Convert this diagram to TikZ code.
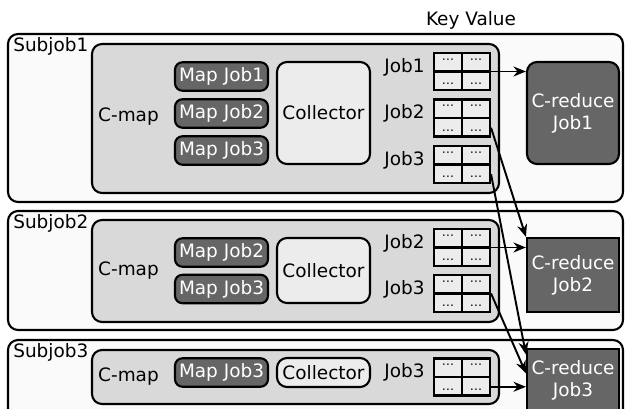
\documentclass[tikz,border=0pt]{standalone}
\usepackage{fontspec}
\setmainfont{DejaVu Sans}
\usetikzlibrary{arrows.meta, calc, positioning}

\definecolor{boxbg}{HTML}{FAFAFA}
\definecolor{mapbg}{HTML}{D9D9D9}
\definecolor{lightbg}{HTML}{ECECEC}
\definecolor{darkbg}{HTML}{666666}

\tikzset{
    subjob/.style={draw, rounded corners=0.2cm, fill=boxbg, line width=1.2pt, inner sep=0pt},
    cmap/.style={draw, rounded corners=0.2cm, fill=mapbg, line width=1.2pt, inner sep=0pt},
    mapjob/.style={draw, rounded corners=0.15cm, fill=darkbg, text=white, minimum width=1.86cm, minimum height=0.57cm, inner sep=0pt, line width=1.2pt},
    collector/.style={draw, rounded corners=0.2cm, fill=lightbg, minimum width=1.86cm, inner sep=0pt, line width=1.2pt},
    reduce/.style={draw, fill=darkbg, text=white, align=center, minimum width=1.84cm, inner sep=0pt, line width=1.2pt},
    kvcell/.style={draw, fill=lightbg, minimum width=1.12cm, minimum height=0.74cm, inner sep=0pt, line width=1.2pt},
    kvdots/.style={inner sep=0pt, font=\fontsize{7}{7}\selectfont},
    joblabel/.style={inner sep=0pt, left=0.16cm of #1, yshift=0.09cm},
    flow/.style={-{Stealth[length=0.25cm, width=0.2cm]}, line width=1.1pt},
}

% key/value table: name, centre
\newcommand{\kvtable}[2]{%
    \node[kvcell] (#1) at (#2) {};
    \draw[line width=1.2pt] (#1.north) -- (#1.south) (#1.west) -- (#1.east);
    \node[kvdots] (#1-a) at ($(#1.center)+(-0.28,0.21)$) {⋯};
    \node[kvdots] (#1-b) at ($(#1.center)+(0.28,0.21)$) {⋯};
    \node[kvdots] (#1-c) at ($(#1.center)+(-0.28,-0.25)$) {…};
    \node[kvdots] (#1-d) at ($(#1.center)+(0.28,-0.25)$) {…};
    \coordinate (#1-out) at ($(#1.east)!0.5!(#1.south east)$);
}

\begin{document}
\begin{tikzpicture}[font=\fontsize{10.5}{12.5}\selectfont]
    \useasboundingbox[fill=white] (0,0) rectangle (12.5,8.18);

    % Outer boxes and the C-map areas
    \node[subjob, minimum width=12.30cm, minimum height=3.36cm] (sub1) at (6.31, 5.82) {};
    \node[subjob, minimum width=12.30cm, minimum height=2.38cm] (sub2) at (6.31, 2.77) {};
    \node[subjob, minimum width=12.30cm, minimum height=1.68cm] (sub3) at (6.31, 0.54) {};
    \node[cmap, minimum width=8.14cm, minimum height=2.98cm] (cmap1) at (5.91, 5.81) {};
    \node[cmap, minimum width=8.14cm, minimum height=2.04cm] (cmap2) at (5.91, 2.76) {};
    \node[cmap, minimum width=8.14cm, minimum height=1.08cm] (cmap3) at (5.91, 0.64) {};

    % Labels
    \node[anchor=west, inner sep=0pt] (s1) at ($(sub1.north west)+(0.12,-0.26)$) {Subjob1};
    \node[anchor=west, inner sep=0pt] (s2) at ($(sub2.north west)+(0.12,-0.27)$) {Subjob2};
    \node[anchor=west, inner sep=0pt] (s3) at ($(sub3.north west)+(0.12,-0.26)$) {Subjob3};
    \node (kv) at (9.42, 7.78) {Key Value};
    \node (cm1) at (2.57, 5.84) {C-map};
    \node (cm2) at (2.57, 2.76) {C-map};
    \node (cm3) at (2.57, 0.64) {C-map};

    % Map jobs
    \node[mapjob] (m11) at (4.43, 6.65) {Map Job1};
    \node[mapjob] (m12) at (4.43, 5.91) {Map Job2};
    \node[mapjob] (m13) at (4.43, 5.17) {Map Job3};
    \node[mapjob] (m22) at (4.43, 3.13) {Map Job2};
    \node[mapjob] (m23) at (4.43, 2.40) {Map Job3};
    \node[mapjob] (m33) at (4.43, 0.73) {Map Job3};

    % Collectors
    \node[collector, minimum height=2.04cm] (col1) at (6.47, 5.92) {Collector};
    \node[collector, minimum height=1.30cm] (col2) at (6.47, 2.77) {Collector};
    \node[collector, minimum height=0.58cm] (col3) at (6.47, 0.73) {Collector};

    % Key/value tables
    \kvtable{t11}{9.24, 6.75}
    \kvtable{t12}{9.24, 5.82}
    \kvtable{t13}{9.24, 4.89}
    \kvtable{t21}{9.24, 3.23}
    \kvtable{t22}{9.24, 2.31}
    \kvtable{t31}{9.24, 0.64}
    \node[joblabel=t11] (j11) {Job1};
    \node[joblabel=t12] (j12) {Job2};
    \node[joblabel=t13] (j13) {Job3};
    \node[joblabel=t21] (j21) {Job2};
    \node[joblabel=t22] (j22) {Job3};
    \node[joblabel=t31] (j31) {Job3};

    % Reducers
    \node[reduce, rounded corners=0.2cm, minimum height=2.04cm] (red1) at (11.46, 5.92) {C-reduce\\Job1};
    \node[reduce, minimum height=1.48cm] (red2) at (11.46, 2.68) {C-reduce\\Job2};
    \node[reduce, minimum height=1.26cm] (red3) at (11.46, 0.57) {C-reduce\\Job3};

    % Draw flows into the reducers
    \draw[flow] (t11.east) -- (t11.east -| red1.west);
    \draw[flow] (t12-out) -- (red2.north west);
    \draw[flow] (t13-out) -- ($(red3.north west)!0.1!(red3.south west)$);
    \draw[flow] (t21.east) -- (t21.east -| red2.west);
    \draw[flow] (t22.east) -- ($(red3.north west)!0.39!(red3.south west)$);
    \draw[flow] (t31-out) -- (t31-out -| red3.west);
\end{tikzpicture}
\end{document}
